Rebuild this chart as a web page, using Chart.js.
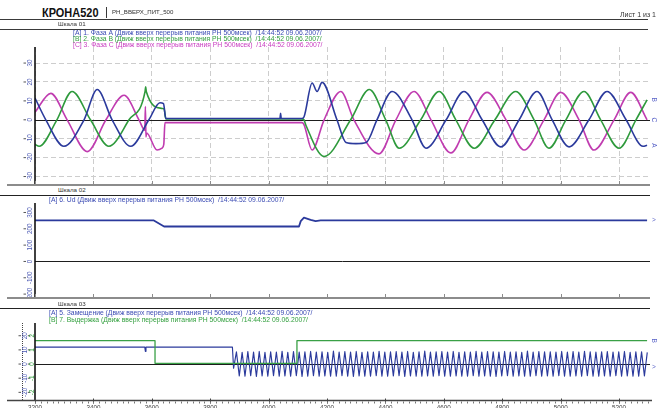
<!DOCTYPE html>
<html><head><meta charset="utf-8">
<script src="https://cdn.jsdelivr.net/npm/chart.js@4.4.1/dist/chart.umd.min.js"></script>
<style>
html,body{margin:0;padding:0;background:#fff;overflow:hidden;}
#page{position:relative;width:665px;height:408px;overflow:hidden;font-family:"Liberation Sans",Arial,sans-serif;color:#333;}
.t{position:absolute;white-space:pre;line-height:1;}
.hl{position:absolute;height:1px;background:#3a3a3a;}
.vl{position:absolute;width:1px;background:#3a3a3a;}
canvas{position:absolute;left:0;}
</style></head><body>
<div id="page">
<canvas id="c1" width="665" height="139" style="top:47px"></canvas>
<canvas id="c2" width="665" height="96" style="top:203px"></canvas>
<canvas id="c3" width="665" height="85" style="top:323px"></canvas>

<div class="t" id="title" style="left:42px;top:6.6px;font-size:12.6px;font-weight:bold;color:#111;transform:scaleX(0.87);transform-origin:0 0;"></div>
<div class="vl" style="left:106px;top:7px;height:11px;"></div>
<div class="t" id="sub" style="left:112px;top:9px;font-size:6.1px;"></div>
<div class="t" id="sheet" style="left:620px;top:11.3px;font-size:7px;"></div>
<div class="hl" style="left:0;top:19px;width:648px;"></div>
<div class="t" id="s0" style="left:58px;top:21.2px;font-size:6.2px;"></div>
<div class="hl" style="left:0;top:29px;width:648px;"></div>
<div class="t" id="l0" style="left:73px;top:30.2px;font-size:6.8px;color:#3c4cb4;"></div>
<div class="t" id="l1" style="left:73px;top:36.2px;font-size:6.8px;color:#34a040;"></div>
<div class="t" id="l2" style="left:73px;top:42.2px;font-size:6.8px;color:#c83cc0;"></div>

<div class="t" id="s1" style="left:58px;top:187px;font-size:6.2px;"></div>
<div class="hl" style="left:0;top:195px;width:650px;background:#222;"></div>
<div class="t" id="l3" style="left:49px;top:196.7px;font-size:6.8px;color:#3c4cb4;"></div>

<div class="hl" style="left:0;top:308px;width:650px;background:#222;"></div>
<div class="t" id="s2" style="left:58px;top:301.2px;font-size:6.2px;"></div>
<div class="t" id="l4" style="left:49px;top:310.4px;font-size:6.8px;color:#3c4cb4;"></div>
<div class="t" id="l5" style="left:49px;top:316.7px;font-size:6.8px;color:#34a040;"></div>
</div>
<script>
// ---------- texts ----------
const headerTitle = 'КРОНА520';
const headerSub = 'РН_ВВЕРХ_ПИТ_500';
const sheetLabel = 'Лист 1 из 1';
const scaleNames = ['Шкала 01', 'Шкала 02', 'Шкала 03'];
const seriesTags = ['[A]', '[B]', '[C]', '[A]', '[A]', '[B]'];
const seriesNames = ['1. Фаза А', '2. Фаза В', '3. Фаза С', '6. Ud', '5. Замещение', '7. Выдержка'];
const recordSuffix = ' (Движ вверх перерыв питания РН 500мсек)  /14:44:52 09.06.2007/';

// ---------- x axis ----------
const xMin = 3200, xMax = 5306;
const xTickValues = [3200, 3400, 3600, 3800, 4000, 4200, 4400, 4600, 4800, 5000, 5200];
const xTickLabels = ['3200', '3400', '3600', '3800', '4000', '4200', '4400', '4600', '4800', '5000', '5200'];

// ---------- panel 1: phases ----------
const yTicks1 = [-30, -20, -10, 0, 10, 20, 30];
const phaseA_t = [3200,3237,3299,3368,3413,3464,3528,3590,3628,3640,3648,4039,4041,4043,4114,4121,4149,4166,4183,4234,4265,4299,4334,4371,4423,4491,4539,4608,4669,4731,4795,4858,4919,4971,5029,5097,5159,5224,5282,5296];
const phaseA_v = [11.5,0,-14,0,16,0,-14,0,9,8.5,0.7,0.7,3.5,0.7,0.7,1.5,19.5,15,19.8,0,-12,-12.6,-12,0,15,0,-15,0,15,0,-14.3,0,15,0,-14.3,0,15,0,-14,-13.5];
const phaseB_t = [3200,3214,3275,3327,3390,3453,3522,3577,3579,3581,3635,3642,3648,4114,4121,4128,4190,4281,4345,4401,4447,4521,4584,4641,4704,4775,4846,4909,4960,5018,5080,5137,5200,5258,5296];
const phaseB_v = [-13,-14,0,15,0,-14,0,15,17.5,15,6,5.8,0.5,0.5,0,-3,-19.4,0,16,0,-15,0,15,0,-15,0,15,0,-15,0,15,0,-15,0,10.6];
const phaseC_t = [3200,3254,3310,3379,3443,3505,3556,3576,3578,3580,3582,3618,3635,3641,3645,4114,4121,4149,4190,4247,4292,4378,4436,4498,4556,4624,4686,4748,4813,4875,4943,5000,5063,5114,5183,5240,5296];
const phaseC_v = [4,14,0,-16.8,0,13,0,-5.5,7,-9,-7,-16,-15,-13,-1.5,-1.5,-2.5,-16,0,15,0,-18,0,15,0,-17.5,0,14.5,0,-16,0,14.5,0,-16,0,14.5,0];

// ---------- panel 2: Ud ----------
const yTicks2 = [-200, -100, 0, 100, 200, 300];
const ud_t = [3200, 3607, 3642, 4104, 4110, 4121, 4144, 4161, 4178, 5296];
const ud_v = [251, 251, 214, 214, 247, 268, 255, 247, 251, 251];

// ---------- panel 3 ----------
const yTicks3A = [-20, -10, 0, 10, 20];
const yTicks3B = [-2, -1, 0, 1, 2];
const zam_t = [3200, 3576, 3578, 3580, 3876];
const zam_v = [12, 12, 9, 12, 12];
const oscStart = 3880, oscStep = 9.77;   // sample time base of the oscillating part
const oscVals = [
 -3, 8.6, -8.4, 8.2, -8.6, 8.8, -8.3, 8.4, -8.7, 8.9,
 -8.4, 8.3, -8.6, 8.7, -8.2, 8.5, -8.6, 9.0, -8.4, 8.3,
 -8.5, 8.8, -8.3, 8.4, -8.7, 8.6, -8.5, 8.9, -8.3, 8.4,
 -8.6, 8.7, -8.4, 8.3, -8.5, 9.1, -8.6, 8.4, -8.3, 8.8,
 -8.5, 8.5, -8.7, 8.9, -8.4, 8.3, -8.5, 8.7, -8.6, 8.4,
 -8.3, 9.0, -8.5, 8.5, -8.6, 8.6, -8.4, 8.8, -8.3, 8.4,
 -8.7, 8.9, -8.4, 8.3, -8.5, 8.7, -8.6, 9.2, -8.4, 8.4,
 -8.5, 8.6, -8.3, 8.8, -8.6, 8.4, -8.5, 8.9, -8.4, 8.3,
 -8.6, 8.7, -8.5, 8.5, -8.3, 9.0, -8.6, 8.4, -8.4, 8.8,
 -8.5, 8.6, -8.7, 8.4, -8.4, 8.9, -8.3, 8.5, -8.6, 8.7,
 -8.4, 8.3, -8.5, 9.1, -8.6, 8.4, -8.3, 8.8, -8.5, 8.6,
 -8.4, 8.7, -8.6, 8.5, -8.3, 8.9, -8.5, 8.4, -8.6, 8.8,
 -8.4, 8.5, -8.5, 9.0, -8.3, 8.6, -8.6, 8.4, -8.5, 8.7,
 -8.4, 8.8, -8.6, 8.5, -8.3, 8.6, -8.5, 8.9, -8.4, 8.3,
 -8.6, 8.7, -8.5, 8.6, -8.4, 8.2
];
const vyd_t = [3200, 3611, 3611, 4097, 4097, 5296];
const vyd_v = [1.65, 1.65, 0.05, 0.05, 1.65, 1.65];

// ---------- texts into page ----------
document.getElementById('title').textContent = headerTitle;
document.getElementById('sub').textContent = headerSub;
document.getElementById('sheet').textContent = sheetLabel;
scaleNames.forEach((s, i) => document.getElementById('s' + i).textContent = s);
seriesNames.forEach((n, i) => document.getElementById('l' + i).textContent = seriesTags[i] + ' ' + n + recordSuffix);

// ---------- helpers ----------
const COL = { A: '#2b3a9c', B: '#2e9a3c', C: '#c03cb0', lblBlue: '#4a58b4', lblGreen: '#35a040', mark: '#5a64c8' };
const FONT = '"Liberation Sans", Arial, sans-serif';
Chart.defaults.font.family = FONT;
const pts = (t, v) => t.map((x, i) => ({ x: x, y: v[i] }));

function line(ctx, x1, y1, x2, y2, color, w, dash) {
  ctx.save(); ctx.strokeStyle = color; ctx.lineWidth = w; ctx.setLineDash(dash || []);
  ctx.beginPath(); ctx.moveTo(x1, y1); ctx.lineTo(x2, y2); ctx.stroke(); ctx.restore();
}

const decor = {
  id: 'decor',
  beforeDatasetsDraw(chart, args, o) {
    const ctx = chart.ctx, ca = chart.chartArea;
    if (o.zero) {
      const y = Math.round(chart.scales[o.zero].getPixelForValue(0)) + 0.5;
      line(ctx, ca.left, y, ca.right, y, '#1e1e1e', 1);
    }
  },
  afterDraw(chart, args, o) {
    const ctx = chart.ctx, ca = chart.chartArea, xs = chart.scales.x;
    line(ctx, ca.left, ca.top, ca.left, ca.bottom, '#111', 1.6);
    if (o.extraAxisX) line(ctx, o.extraAxisX, ca.top, o.extraAxisX, ca.bottom, '#444', 1, [1, 1]);
    (o.yAxes || []).forEach(a => {
      const s = chart.scales[a.id];
      a.values.forEach(v => {
        const y = s.getPixelForValue(v);
        line(ctx, a.dashX, y, a.dashX + 2.5, y, '#555', 1);
        ctx.save(); ctx.translate(a.labelX, y); ctx.rotate(-Math.PI / 2);
        ctx.font = '6.3px ' + FONT; ctx.fillStyle = a.color; ctx.textAlign = 'center'; ctx.textBaseline = 'middle';
        ctx.fillText(String(v), 0, 0); ctx.restore();
      });
    });
    const b = o.bottom;
    if (b) {
      const y = ca.bottom + b.dy;
      line(ctx, b.from, y, b.to, y, b.color, b.w);
      xTickValues.forEach(v => {
        const x = Math.round(xs.getPixelForValue(v)) + 0.5;
        line(ctx, x, y + b.tickFrom, x, y + b.tickTo, b.color, 1);
      });
      if (b.minor) {
        for (let v = xMin; v <= xMax; v += b.minor) {
          const x = Math.round(xs.getPixelForValue(v)) + 0.5;
          line(ctx, x, y + 1, x, y + 3, '#777', 1);
        }
      }
    }
    (o.markers || []).forEach(m => {
      const meta = chart.getDatasetMeta(m.ds);
      const pt = meta.data[meta.data.length - 1];
      const sc = chart.scales[meta.yAxisID];
      const y = m.value !== undefined ? sc.getPixelForValue(m.value) : pt.y;
      ctx.save(); ctx.translate(ca.right + 4, y); if (m.rot) ctx.rotate(Math.PI / 2);
      ctx.font = '6.5px ' + FONT; ctx.fillStyle = COL.mark; ctx.textAlign = 'center'; ctx.textBaseline = 'middle';
      ctx.fillText(m.text, 0, 0); ctx.restore();
    });
  }
};

function xScale(showLabels) {
  return {
    type: 'linear', min: xMin, max: xMax,
    afterBuildTicks: s => { s.ticks = xTickValues.map(v => ({ value: v })); },
    ticks: showLabels ? { display: true, autoSkip: false, maxRotation: 0, minRotation: 0, padding: 4, color: '#444', font: { size: 6.3 }, callback: (v, i) => xTickLabels[i] } : { display: false },
    grid: showLabels ? { display: false, drawTicks: false } : { display: true, drawTicks: false, color: '#cdcdcd', lineWidth: 1 },
    border: { display: false, dash: [5, 3] },
    afterFit: s => { s.height = showLabels ? 8 : 0; }
  };
}
function baseOpts(scales, decorOpts) {
  return {
    responsive: false, animation: false, devicePixelRatio: 1,
    layout: { padding: { left: 0, right: 15, top: 0, bottom: 0 } },
    elements: { point: { radius: 0 }, line: { borderJoinStyle: 'round' } },
    plugins: { legend: { display: false }, tooltip: { enabled: false }, decor: decorOpts },
    scales: scales
  };
}

// ---------- chart 1 ----------
new Chart(document.getElementById('c1'), {
  type: 'line',
  data: { datasets: [
    { data: pts(phaseA_t, phaseA_v), borderColor: COL.A, borderWidth: 1.6, cubicInterpolationMode: 'monotone' },
    { data: pts(phaseB_t, phaseB_v), borderColor: COL.B, borderWidth: 1.6, cubicInterpolationMode: 'monotone' },
    { data: pts(phaseC_t, phaseC_v), borderColor: COL.C, borderWidth: 1.6, cubicInterpolationMode: 'monotone' }
  ] },
  options: baseOpts({
    x: xScale(false),
    y: { min: -35, max: 38.5,
      afterBuildTicks: s => { s.ticks = yTicks1.map(v => ({ value: v })); },
      ticks: { display: false },
      grid: { drawTicks: false, color: c => (c.tick && c.tick.value === 0) ? 'rgba(0,0,0,0)' : '#cdcdcd' },
      border: { display: false, dash: [5, 3] },
      afterFit: s => { s.width = 35; } }
  }, {
    zero: 'y',
    yAxes: [{ id: 'y', values: yTicks1, labelX: 30, dashX: 23.5, color: COL.lblBlue }],
    bottom: { from: 7, to: 650, w: 2, dy: -1, color: '#8c8c8c', tickFrom: -4, tickTo: -1 },
    markers: [{ ds: 1, text: 'B', rot: true }, { ds: 2, text: 'C', rot: true }, { ds: 0, text: 'A', rot: true }]
  }),
  plugins: [decor]
});

// ---------- chart 2 ----------
new Chart(document.getElementById('c2'), {
  type: 'line',
  data: { datasets: [
    { data: pts(ud_t, ud_v), borderColor: COL.A, borderWidth: 1.8, tension: 0 }
  ] },
  options: baseOpts({
    x: Object.assign(xScale(false), { grid: { display: false, drawTicks: false } }),
    y: { min: -230, max: 358, ticks: { display: false }, grid: { display: false, drawTicks: false }, border: { display: false },
      afterFit: s => { s.width = 35; } }
  }, {
    zero: 'y',
    yAxes: [{ id: 'y', values: yTicks2, labelX: 30.5, dashX: 23.5, color: COL.lblBlue }],
    bottom: { from: 7, to: 650, w: 2, dy: -1, color: '#8c8c8c', tickFrom: -4, tickTo: -1 },
    markers: [{ ds: 0, text: '>', rot: false }]
  }),
  plugins: [decor]
});

// ---------- chart 3 ----------
const zamData = pts(zam_t, zam_v).concat(oscVals.map((v, i) => ({ x: oscStart + i * oscStep, y: v })));
new Chart(document.getElementById('c3'), {
  type: 'line',
  data: { datasets: [
    { data: pts(vyd_t, vyd_v), borderColor: '#3aa046', borderWidth: 1.3, tension: 0, yAxisID: 'yB' },
    { data: zamData, borderColor: COL.A, borderWidth: 1.15, tension: 0, yAxisID: 'yA' }
  ] },
  options: baseOpts({
    x: xScale(true),
    yA: { position: 'left', min: -25.4, max: 29, ticks: { display: false }, grid: { display: false, drawTicks: false }, border: { display: false },
      afterFit: s => { s.width = 35; } },
    yB: { position: 'left', display: false, min: -2.54, max: 2.9, afterFit: s => { s.width = 0; } }
  }, {
    zero: 'yA',
    extraAxisX: 22.5,
    yAxes: [
      { id: 'yA', values: yTicks3A, labelX: 25.5, dashX: 18.5, color: COL.lblBlue },
      { id: 'yB', values: yTicks3B, labelX: 32.3, dashX: 27.8, color: COL.lblGreen }
    ],
    bottom: { from: 7, to: 652, w: 1.5, dy: 0.5, color: '#444', tickFrom: -2, tickTo: 3, minor: 20 },
    markers: [{ ds: 0, text: 'B', rot: true }, { ds: 1, text: '>', rot: false, value: -2 }]
  }),
  plugins: [decor]
});
</script>
</body></html>
